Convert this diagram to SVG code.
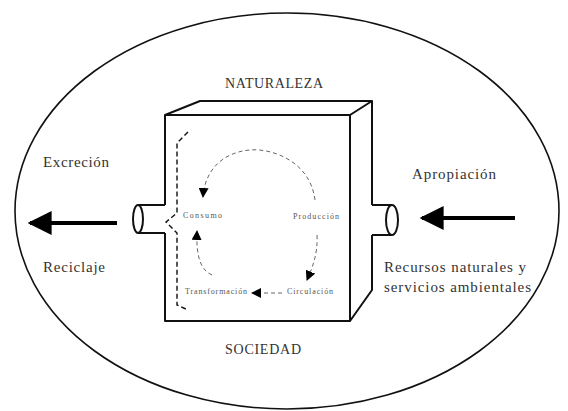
<svg xmlns="http://www.w3.org/2000/svg" width="568" height="411" viewBox="0 0 568 411">
<defs>
<marker id="ah" viewBox="0 0 10 10" refX="9" refY="5" markerWidth="10" markerHeight="10" markerUnits="userSpaceOnUse" orient="auto"><path d="M0,0 L10,5 L0,10 Z" fill="#000"/></marker>
<marker id="big" viewBox="0 0 10 10" refX="9" refY="5" markerWidth="6" markerHeight="6" orient="auto"><path d="M0,0 L10,5 L0,10 Z" fill="#000"/></marker>
</defs>
<style>
.t{font-family:"Liberation Serif",serif;font-size:15px;fill:#333}
.c{font-family:"Liberation Serif",serif;font-size:14px;fill:#333}
.s{font-family:"Liberation Serif",serif;font-size:8px;fill:#555}
.ln{fill:none;stroke:#111;stroke-width:2;stroke-linejoin:round}
.cyc{fill:none;stroke:#666;stroke-width:1;stroke-dasharray:4 3}
</style>
<rect width="568" height="411" fill="#fff"/>
<g id="ellipse"><ellipse cx="287" cy="211" rx="272" ry="198" fill="none" stroke="#111" stroke-width="1.6"/></g>
<g id="box">
<path class="ln" d="M165,205 L165,115 L350,115 L350,321 L165,321 L165,233"/>
<path class="ln" d="M165,115 L200,101 L372,101 L350,115"/>
<path class="ln" d="M372,101 L372,205 M372,235 L372,290 L350,321"/>
</g>
<g id="pipe-left">
<path class="ln" d="M165,205 L138,205 M165,233 L138,233"/>
<ellipse cx="138" cy="219" rx="5" ry="14" fill="#fff" stroke="#111" stroke-width="2"/>
</g>
<g id="pipe-right">
<path class="ln" d="M372,205 L392,205 M372,235 L392,235"/>
<ellipse cx="392" cy="220" rx="6" ry="15" fill="#fff" stroke="#111" stroke-width="2"/>
</g>
<g id="connectors">
<line x1="117" y1="223" x2="30" y2="223" stroke="#000" stroke-width="4" marker-end="url(#big)"/>
<line x1="515" y1="218" x2="422" y2="218" stroke="#000" stroke-width="4" marker-end="url(#big)"/>
<path class="cyc" d="M315,200 C310,160 270,148 250,150 C225,152 205,168 203,197" marker-end="url(#ah)"/>
<path class="cyc" d="M317,235 C318,255 312,268 307,280" marker-end="url(#ah)"/>
<path class="cyc" d="M282,293 L252,293" marker-end="url(#ah)"/>
<path class="cyc" d="M212,275 C200,270 196,255 197,231" marker-end="url(#ah)"/>
<path d="M188,132 L177,143 L177,213 L166,222 L177,233 L177,305 L188,310" fill="none" stroke="#111" stroke-width="1.4" stroke-dasharray="5 3"/>
</g>
<g id="labels">
<text class="c" x="274" y="88" text-anchor="middle" textLength="98">NATURALEZA</text>
<text class="c" x="263" y="354" text-anchor="middle" textLength="76">SOCIEDAD</text>
<text class="t" x="43" y="167" textLength="66">Excreción</text>
<text class="t" x="43" y="272" textLength="62">Reciclaje</text>
<text class="t" x="412" y="179" textLength="84">Apropiación</text>
<text class="t" x="384" y="272" textLength="142">Recursos naturales y</text>
<text class="t" x="384" y="292" textLength="147">servicios ambientales</text>
</g>
<g id="cycle-labels">
<text class="s" x="183" y="218" textLength="39">Consumo</text>
<text class="s" x="293" y="219" textLength="46">Producción</text>
<text class="s" x="287" y="294" textLength="46">Circulación</text>
<text class="s" x="185" y="294" textLength="62">Transformación</text>
</g>
</svg>
